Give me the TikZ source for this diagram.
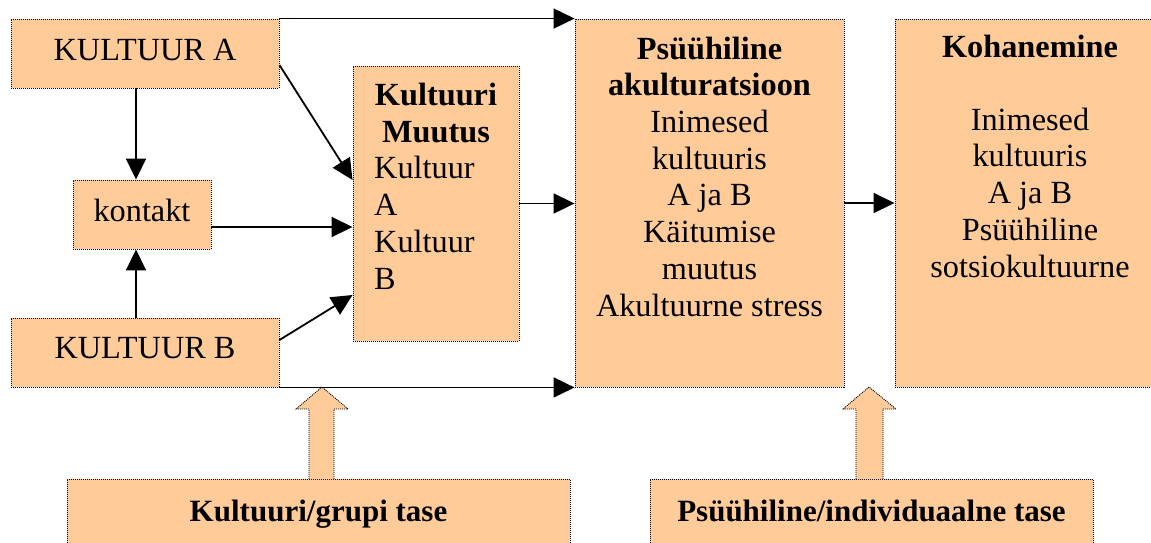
\documentclass[tikz,border=0pt]{standalone}
\usepackage{fontspec}
\setmainfont{Liberation Serif}
\usetikzlibrary{arrows.meta,calc}
\definecolor{boxfill}{HTML}{FFCC99}
\begin{document}
\begin{tikzpicture}[x=1pt,y=-1pt,
  box/.style={draw, fill=boxfill, line width=0.9pt, dash pattern=on 1pt off 1pt, inner sep=0pt},
  txt/.style={font=\fontsize{32.3}{36.7}\selectfont, inner sep=0pt, align=center, anchor=base},
  btxt/.style={font=\fontsize{31}{36.7}\selectfont\bfseries, inner sep=0pt, align=center, anchor=base},
  conn/.style={line width=1.8pt, -{Triangle[length=21pt,width=20pt]}},
  blockarrow/.style={draw, fill=boxfill, line width=0.9pt, dash pattern=on 1pt off 1pt, line join=miter}]
\useasboundingbox (0,0) rectangle (1151,542);
\clip (0,0) rectangle (1151,542);
% boxes
\node[box, minimum width=268pt, minimum height=69pt] (A) at (145,53.5) {};
\node[box, minimum width=138pt, minimum height=69pt] (k) at (142,214.5) {};
\node[box, minimum width=268pt, minimum height=69pt] (B) at (145,352.5) {};
\node[box, minimum width=166pt, minimum height=275pt] (m) at (436,203.5) {};
\node[box, minimum width=269pt, minimum height=368pt] (p) at (709.5,203) {};
\node[box, minimum width=270pt, minimum height=368pt] (h) at (1030,203) {};
\node[box, minimum width=503pt, minimum height=81pt] (g) at (318.5,519.5) {};
\node[box, minimum width=443pt, minimum height=81pt] (i) at (871.5,519.5) {};
% block arrows
\draw[blockarrow] (309,479) -- (309,409) -- (296,409) -- (322,387) -- (348,409) -- (334,409) -- (334,479);
\draw[blockarrow] (856,479) -- (856,409) -- (843,409) -- (869,387) -- (896,409) -- (883,409) -- (883,479);
% texts (anchor base = last line baseline)
\node[txt] (tA) at (145,60) {KULTUUR A};
\node[txt] (tk) at (142,221) {kontakt};
\node[txt] (tB) at (145,358) {KULTUUR B};
\node[txt] (tm1) at (436,142) {\textbf{Kultuuri}\\\textbf{Muutus}};
\node[txt, align=left, anchor=base west] (tm2) at (374,289) {Kultuur\\A\\Kultuur\\B};
\node[txt] (tp) at (709.5,316) {\textbf{Psüühiline}\\\textbf{akulturatsioon}\\Inimesed\\kultuuris\\A ja B\\Käitumise\\muutus\\Akultuurne stress};
\node[txt] (th) at (1030,277) {\textbf{Kohanemine}\\[36pt]Inimesed\\kultuuris\\A ja B\\Psüühiline\\sotsiokultuurne};
\node[btxt] (tg) at (318.5,521) {Kultuuri/grupi tase};
\node[btxt] (ti) at (871.5,521) {Psüühiline/individuaalne tase};
% connectors
\draw[conn] (A.north east) -- (p.north west);
\draw[conn] (B.south east) -- (p.south west);
\draw[conn] ([yshift=-11.5pt]A.east) -- ([yshift=23.5pt]m.west);
\draw[conn] ([yshift=12.5pt]B.east) -- ([yshift=-91.5pt]m.west);
\draw[conn] ([yshift=-12.5pt]k.east) -- ([yshift=-12.5pt]k.east -| m.west);
\draw[conn] (m.east) -- (m.east -| p.west);
\draw[conn] (p.east) -- (h.west);
\draw[conn] ([xshift=-9pt]A.south) -- ([xshift=-9pt]A.south |- k.north);
\draw[conn] ([xshift=-9pt]B.north) -- ([xshift=-9pt]B.north |- k.south);
\end{tikzpicture}
\end{document}
